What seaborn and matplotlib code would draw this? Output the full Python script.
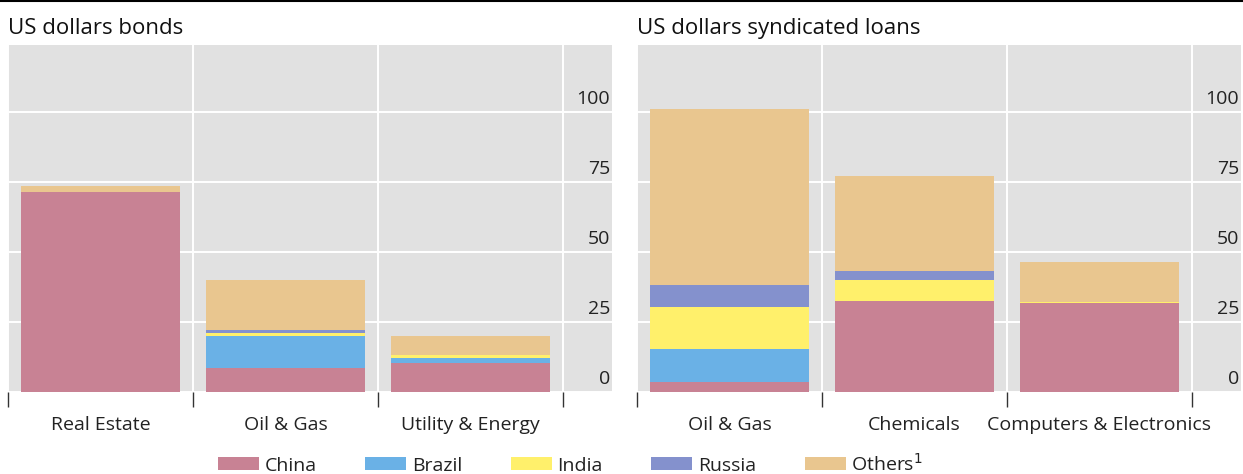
import numpy as np
import seaborn as sns
import matplotlib.pyplot as plt
import matplotlib.transforms as mtransforms
from matplotlib.lines import Line2D
from matplotlib.patches import Patch

# data (USD bn)
countries = ['China', 'Brazil', 'India', 'Russia', 'Others']
colors = ['#C88294', '#6AB1E6', '#FFF06B', '#8491CD', '#E9C68F']

bond_sectors = ['Real Estate', 'Oil & Gas', 'Utility & Energy']
bond_china = [71.3, 8.5, 10.3]
bond_brazil = [0.0, 11.5, 2.0]
bond_india = [0.0, 1.2, 0.8]
bond_russia = [0.0, 1.0, 0.0]
bond_others = [2.3, 17.8, 7.0]

loan_sectors = ['Oil & Gas', 'Chemicals', 'Computers & Electronics']
loan_china = [3.5, 32.5, 31.7]
loan_brazil = [12.0, 0.0, 0.0]
loan_india = [15.0, 7.5, 0.4]
loan_russia = [7.6, 3.3, 0.0]
loan_others = [63.0, 34.0, 14.3]

yticks = [0, 25, 50, 75, 100]

sns.set_theme(style='darkgrid')
plt.rcParams['font.family'] = ['Open Sans', 'DejaVu Sans']
plt.rcParams['axes.facecolor'] = '#E1E1E1'
plt.rcParams['grid.color'] = 'white'
plt.rcParams['grid.linewidth'] = 1.4

fig = plt.figure(figsize=(12.43, 4.74), dpi=100)
ax1 = fig.add_axes([8 / 1243, 1 - 392 / 474, 604 / 1243, 347 / 474])
ax2 = fig.add_axes([637 / 1243, 1 - 392 / 474, 604 / 1243, 347 / 474])


def stacked(ax, sectors, layers, title):
    cum = np.cumsum(np.array(layers), axis=0)
    # draw from the top layer down so lower layers cover the upper ones
    for i in range(len(layers) - 1, -1, -1):
        sns.barplot(x=sectors, y=cum[i], color=colors[i], width=0.855,
                    saturation=1, ax=ax, linewidth=0)
    ax.set_xlim(-0.5, 2.765)
    ax.set_ylim(0, 124)
    ax.set_yticks(yticks)
    ax.set_yticklabels([])
    ax.tick_params(axis='y', length=0)
    ax.set_xticks([0, 1, 2])
    ax.set_xticklabels(sectors, fontsize=14, color='#222222')
    ax.set_xticks([-0.5, 0.5, 1.5, 2.5], minor=True)
    ax.tick_params(axis='x', which='major', length=0, pad=17)
    ax.tick_params(axis='x', which='minor', length=11, width=1, color='#333333',
                   bottom=True, direction='out')
    ax.grid(True, which='minor', axis='x', color='white', linewidth=1.4)
    ax.grid(False, which='major', axis='x')
    ax.set_xlabel('')
    ax.set_ylabel('')
    for s in ax.spines.values():
        s.set_visible(False)
    trans = mtransforms.blended_transform_factory(ax.transAxes, ax.transData)
    for v in yticks:
        ax.text(0.997, v + 1.5, str(v), transform=trans, ha='right', va='bottom',
                fontsize=14, color='#222222')
    ax.text(0, 1.016, title, transform=ax.transAxes, ha='left', va='bottom',
            fontsize=16, color='#111111')


stacked(ax1, bond_sectors,
        [bond_china, bond_brazil, bond_india, bond_russia, bond_others],
        'US dollars bonds')
stacked(ax2, loan_sectors,
        [loan_china, loan_brazil, loan_india, loan_russia, loan_others],
        'US dollars syndicated loans')

fig.add_artist(Line2D([0, 1], [0.998, 0.998], color='black', linewidth=1.5))

labels = countries[:-1] + ['Others$^1$']
handles = [Patch(facecolor=c, edgecolor='none') for c in colors]
fig.legend(handles, labels, loc='center', bbox_to_anchor=(0.459, 0.022),
           ncol=5, frameon=False, fontsize=14, handlelength=2.1,
           handleheight=0.62, handletextpad=0.3, columnspacing=2.5,
           labelcolor='#222222')

fig.savefig('out.png', dpi=100)
